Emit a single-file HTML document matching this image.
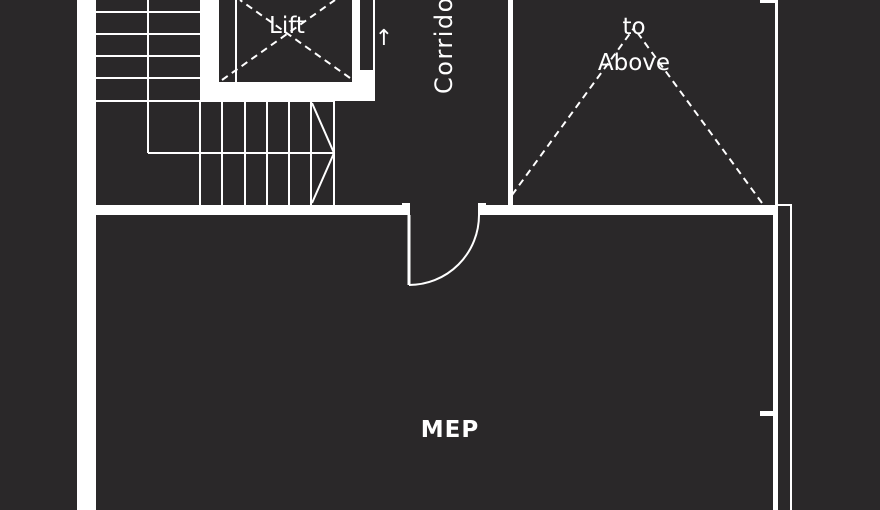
<!DOCTYPE html>
<html><head><style>
html,body{margin:0;padding:0;background:#2a2829;width:880px;height:510px;overflow:hidden}
svg{display:block}
text{font-family:"DejaVu Sans","Liberation Sans",sans-serif;fill:#fff}
</style></head><body>
<svg width="880" height="510" viewBox="0 0 880 510">
<rect width="880" height="510" fill="#2a2829"/>
<rect x="77" y="0" width="19" height="510" fill="#fff"/>
<g stroke="#fff" stroke-width="2" fill="none">
<line x1="96" y1="12" x2="200" y2="12"/>
<line x1="96" y1="34" x2="200" y2="34"/>
<line x1="96" y1="56" x2="200" y2="56"/>
<line x1="96" y1="78" x2="200" y2="78"/>
<line x1="96" y1="101" x2="335" y2="101"/>
<line x1="148" y1="0" x2="148" y2="153"/>
<line x1="148" y1="153" x2="335" y2="153"/>
<line x1="200" y1="101" x2="200" y2="205"/>
<line x1="222" y1="101" x2="222" y2="205"/>
<line x1="245" y1="101" x2="245" y2="205"/>
<line x1="267" y1="101" x2="267" y2="205"/>
<line x1="289" y1="101" x2="289" y2="205"/>
<line x1="311" y1="101" x2="311" y2="205"/>
<line x1="334" y1="101" x2="334" y2="205"/>
<polyline points="312,103 334,153 312,203"/>
</g>
<rect x="200" y="0" width="175" height="101" fill="#fff"/>
<rect x="219" y="0" width="133" height="82" fill="#2a2829"/>
<line x1="236" y1="0" x2="236" y2="82" stroke="#fff" stroke-width="2"/>
<rect x="360" y="0" width="13" height="70" fill="#2a2829"/>
<rect x="357" y="0" width="3" height="75" fill="#fff"/>
<g stroke="#fff" stroke-width="2" stroke-dasharray="7,5">
<line x1="222" y1="80" x2="335" y2="0"/>
<line x1="350" y1="78" x2="240" y2="0"/>
<line x1="512" y1="195" x2="634" y2="28"/>
<line x1="762" y1="203" x2="634" y2="28"/>
</g>
<text x="287" y="33" font-size="23" text-anchor="middle">Lift</text>
<text x="384" y="45" font-size="22" text-anchor="middle">↑</text>
<text transform="translate(452,94) rotate(-90)" font-size="24" letter-spacing="1.5">Corridor</text>
<rect x="96" y="205" width="312" height="10" fill="#fff"/>
<rect x="480" y="205" width="298" height="10" fill="#fff"/>
<rect x="402" y="203" width="8" height="12" fill="#fff"/>
<rect x="478" y="203" width="8" height="12" fill="#fff"/>
<line x1="409" y1="215" x2="409" y2="285" stroke="#fff" stroke-width="3"/>
<path d="M409,285 A70,70 0 0 0 479,215" stroke="#fff" stroke-width="2" fill="none"/>
<rect x="508" y="0" width="5" height="205" fill="#fff"/>
<rect x="775" y="0" width="3" height="205" fill="#fff"/>
<rect x="760" y="0" width="15" height="3" fill="#fff"/>
<rect x="773" y="205" width="5" height="305" fill="#fff"/>
<rect x="790" y="204" width="2" height="306" fill="#fff"/>
<rect x="778" y="204" width="14" height="2" fill="#fff"/>
<rect x="760" y="411" width="13" height="5" fill="#fff"/>
<text x="634" y="34" font-size="23" text-anchor="middle">to</text>
<text x="634" y="70" font-size="23" text-anchor="middle">Above</text>
<text x="450" y="437" font-size="23" font-weight="bold" text-anchor="middle" letter-spacing="1">MEP</text>
</svg>
</body></html>
